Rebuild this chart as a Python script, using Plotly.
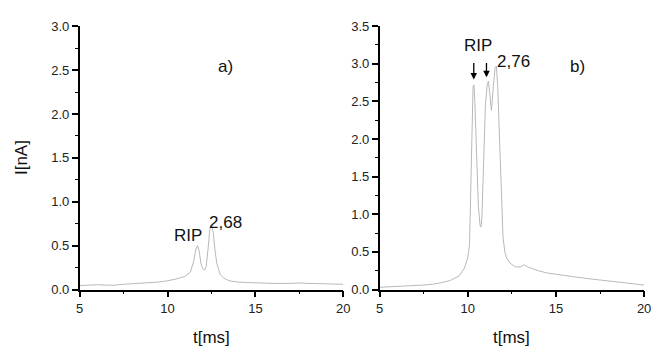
import plotly.graph_objects as go

# Panel a)
t_a = [5, 5.5, 6, 6.5, 7, 7.5, 8, 8.5, 9, 9.5, 10, 10.5, 11, 11.3, 11.5, 11.6, 11.7, 11.8, 11.9, 12.0,
       12.1, 12.2, 12.3, 12.4, 12.5, 12.6, 12.7, 12.8, 13.0, 13.2, 13.5, 14, 14.5, 15, 16, 17, 17.5, 18, 19, 20]
i_a = [0.045, 0.05, 0.055, 0.05, 0.05, 0.06, 0.065, 0.07, 0.075, 0.085, 0.10, 0.12, 0.15, 0.2, 0.33, 0.45,
       0.50, 0.44, 0.30, 0.24, 0.22, 0.26, 0.45, 0.68, 0.74, 0.65, 0.45, 0.3, 0.17, 0.13, 0.1, 0.085, 0.08,
       0.075, 0.07, 0.07, 0.075, 0.07, 0.065, 0.06]

# Panel b)
t_b = [5, 6, 7, 7.5, 8, 8.5, 9, 9.5, 9.8, 10.0, 10.1, 10.15, 10.2, 10.25, 10.3, 10.35, 10.4, 10.5, 10.6,
       10.7, 10.75, 10.8, 10.9, 11.0, 11.1, 11.17, 11.25, 11.34, 11.45, 11.55, 11.62, 11.7, 11.8, 11.9, 12.0,
       12.1, 12.2, 12.4, 12.7, 13.0, 13.2, 13.4, 13.7, 14, 14.5, 15, 16, 17, 18, 19, 20]
i_b = [0.03, 0.04, 0.05, 0.06, 0.07, 0.09, 0.12, 0.18, 0.28, 0.42, 0.6, 1.1, 1.9, 2.5, 2.7, 2.72, 2.5, 1.8,
       1.1, 0.85, 0.83, 0.95, 1.7, 2.45, 2.72, 2.77, 2.6, 2.38, 2.7, 2.95, 2.97, 2.7, 2.0, 1.2, 0.7, 0.5,
       0.42, 0.35, 0.3, 0.3, 0.33, 0.3, 0.27, 0.25, 0.22, 0.2, 0.17, 0.14, 0.11, 0.08, 0.06]

FONT = "Liberation Sans, Arial, sans-serif"
line_style = dict(color="#b8b8b8", width=1)

fig = go.Figure()
fig.add_trace(go.Scatter(x=t_a, y=i_a, mode="lines", line=line_style, xaxis="x", yaxis="y", showlegend=False))
fig.add_trace(go.Scatter(x=t_b, y=i_b, mode="lines", line=line_style, xaxis="x2", yaxis="y2", showlegend=False))

W, H = 658, 355
ax_common = dict(showline=True, linecolor="black", linewidth=1.5, ticks="outside", ticklen=6,
                 tickwidth=1.5, tickcolor="black", showgrid=False, zeroline=False,
                 tickfont=dict(family=FONT, size=13, color="#222"))
minor_x = dict(tickvals=[7.5, 12.5, 17.5], ticks="outside", ticklen=3, tickwidth=1.2, tickcolor="black")
minor_y = dict(dtick=0.25, ticks="outside", ticklen=3, tickwidth=1.2, tickcolor="black")
xdom_a = [77 / W, 345 / W]
xdom_b = [382 / W, 651 / W]
ydom = [(H - 295) / H, (H - 20) / H]

fig.update_layout(
    width=W, height=H, margin=dict(l=0, r=0, t=0, b=0),
    plot_bgcolor="white", paper_bgcolor="white",
    xaxis=dict(domain=xdom_a, range=[5, 20], tickvals=[5, 10, 15, 20], anchor="y", minor=minor_x, **ax_common),
    yaxis=dict(domain=ydom, range=[0, 3.0], dtick=0.5, tickformat=".1f", anchor="x", minor=minor_y, **ax_common),
    xaxis2=dict(domain=xdom_b, range=[5, 20], tickvals=[5, 10, 15, 20], anchor="y2", minor=minor_x, **ax_common),
    yaxis2=dict(domain=ydom, range=[0, 3.5], dtick=0.5, tickformat=".1f", anchor="x2", minor=minor_y, **ax_common),
)

tf = dict(family=FONT, size=17, color="#111")
af = dict(family=FONT, size=17, color="#111")
c = dict(showarrow=False, xanchor="center", yanchor="middle")
ann = [
    dict(text="I[nA]", xref="paper", yref="paper", x=18 / W, y=(H - 157) / H, textangle=-90, font=tf, **c),
    dict(text="t[ms]", xref="paper", yref="paper", x=(77 + 345) / 2 / W, y=(H - 345) / H, font=tf, **c),
    dict(text="t[ms]", xref="paper", yref="paper", x=(382 + 651) / 2 / W, y=(H - 345) / H, font=tf, **c),
    dict(text="a)", xref="x", yref="y", x=13.3, y=2.54, font=af, **c),
    dict(text="RIP", xref="x", yref="y", x=11.17, y=0.62, font=af, **c),
    dict(text="2,68", xref="x", yref="y", x=13.31, y=0.76, font=af, **c),
    dict(text="b)", xref="x2", yref="y2", x=16.2, y=2.97, font=af, **c),
    dict(text="RIP", xref="x2", yref="y2", x=10.56, y=3.245, font=af, **c),
    dict(text="2,76", xref="x2", yref="y2", x=12.6, y=3.03, font=af, **c),
    dict(text="", xref="x2", yref="y2", x=10.34, y=2.79, ax=10.34, ay=3.03, axref="x2", ayref="y2",
         showarrow=True, arrowhead=2, arrowsize=1, arrowwidth=1.3, arrowcolor="black"),
    dict(text="", xref="x2", yref="y2", x=11.06, y=2.82, ax=11.06, ay=3.03, axref="x2", ayref="y2",
         showarrow=True, arrowhead=2, arrowsize=1, arrowwidth=1.3, arrowcolor="black"),
]
fig.update_layout(annotations=ann)

fig.write_html("out.html", config={"displayModeBar": False},
               post_script="document.body.style.margin='0px';")
